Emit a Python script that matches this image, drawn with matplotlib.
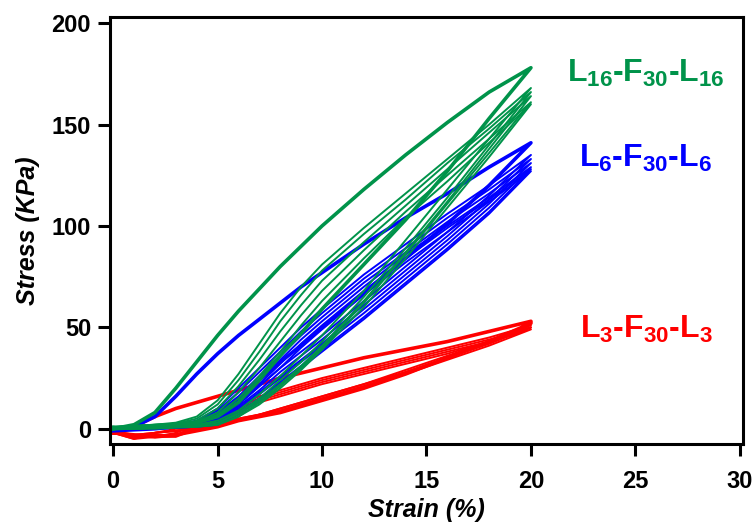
import matplotlib.pyplot as plt

plt.rcParams['font.family'] = ['Liberation Sans', 'DejaVu Sans']
plt.rcParams['font.weight'] = 'bold'
plt.rcParams['mathtext.fontset'] = 'custom'
plt.rcParams['mathtext.rm'] = 'Liberation Sans:bold'
plt.rcParams['mathtext.it'] = 'Liberation Sans:bold'
plt.rcParams['mathtext.bf'] = 'Liberation Sans:bold'

GREEN = '#00934a'
BLUE = '#0000ff'
RED = '#ff0000'

# strain points (%) of the loading and unloading branches
strain_up = [0, 1, 2, 3, 4, 5, 6, 7, 8, 9, 10, 12, 14, 16, 18, 20]
strain_down = [20, 18, 16, 14, 12, 10, 9, 8, 7, 6, 5, 4, 3, 2, 1, 0]

# L16-F30-L16: first cycle (bold) and following cycles (KPa)
green_first_up = [0, 2, 8, 20, 33, 46, 58, 69, 80, 90, 100, 118, 135, 151, 166, 178]
green_first_down = [178, 153, 127, 103, 81, 59, 47, 36, 24, 13, 6, 3, 2, 1, 0.5, 0]
green_up = [
    [0, 1, 2, 3, 6, 14, 27, 42, 57, 70, 81, 99, 116, 133, 150, 168],
    [0, 1, 1.5, 2.5, 5, 12, 24, 38, 53, 66, 78, 96, 113, 131, 148, 166],
    [0, 1, 1.5, 2, 4, 10, 21, 34, 48, 61, 73, 92, 110, 128, 146, 164],
    [1, 1.5, 2, 2.5, 3.5, 8, 18, 30, 43, 56, 68, 88, 107, 125, 143, 161],
    [1, 1.5, 2, 2.5, 3, 7, 15, 26, 38, 51, 63, 84, 104, 122, 141, 160],
]
green_down = [
    [168, 143, 118, 93, 68, 46, 36, 26, 17, 9, 4, 2, 1, 0.5, 0, 0],
    [166, 140, 114, 89, 65, 43, 33, 24, 15, 8, 3, 2, 1, 0.5, 0, 0],
    [164, 138, 112, 87, 63, 41, 31, 22, 14, 7, 3, 1.5, 1, 0.5, 0, 0],
    [161, 136, 111, 86, 62, 40, 30, 21, 13, 6, 2, 1, 1, 0.5, 0, 1],
    [160, 134, 109, 84, 60, 39, 29, 20, 12, 6, 2, 1, 0.5, 0, 0, 1],
]

# L6-F30-L6
blue_first_up = [0, 1, 6, 16, 27, 37, 46, 54, 62, 70, 77, 91, 104, 116, 129, 141]
blue_first_down = [141, 120, 101, 84, 67, 50, 41, 33, 24, 15, 7, 3, 1, 0, -0.5, -1]
blue_up = [
    [0, 0.5, 1, 2, 4, 10, 20, 30, 40, 50, 59, 76, 91, 106, 120, 135],
    [0, 0.5, 1, 2, 3.5, 9, 18, 28, 38, 48, 57, 74, 89, 104, 118, 133],
    [0, 0.5, 1, 1.5, 3, 8, 16, 26, 36, 46, 55, 72, 87, 102, 116, 131],
    [0, 0.5, 1, 1.5, 3, 7, 15, 24, 34, 44, 53, 70, 86, 100, 114, 129],
    [0, 0.5, 1, 1.5, 2.5, 6, 13, 22, 32, 42, 51, 68, 84, 99, 113, 128],
    [0.5, 1, 1, 1.5, 2.5, 5, 12, 21, 30, 40, 49, 66, 82, 97, 112, 127],
]
blue_down = [
    [135, 115, 97, 80, 63, 46, 38, 30, 21, 12, 5, 2, 1, 0.5, 0, 0],
    [133, 113, 95, 78, 61, 44, 36, 28, 19, 11, 4, 2, 1, 0.5, 0, 0],
    [131, 111, 93, 76, 59, 42, 34, 26, 18, 10, 4, 1.5, 1, 0.5, 0, 0],
    [129, 109, 91, 74, 57, 41, 33, 25, 17, 9, 3, 1.5, 1, 0.5, 0, 0],
    [128, 107, 89, 72, 55, 39, 31, 23, 15, 8, 3, 1, 0.5, 0, 0, 0],
    [127, 106, 88, 71, 54, 38, 30, 22, 14, 7, 2, 1, 0.5, 0, 0, 0.5],
]

# L3-F30-L3
red_first_up = [-2, 1, 6, 10, 13, 16, 19, 22, 25, 27.5, 30, 35, 39, 43, 48, 53]
red_first_down = [52, 43, 35, 27, 20, 14, 11, 8, 6, 4, 1, -1, -3, -4, -3, -2]
red_up = [
    [-2, -4, -4, -2, 2, 8, 12, 16, 19, 22, 25, 30, 35, 40, 45, 51],
    [-2, -4, -3, -3, 1, 6, 11, 15, 18, 21, 24, 29, 34, 39, 44, 50],
    [-2, -5, -4, -4, 0, 5, 10, 14, 17, 20, 23, 28, 33, 38, 43, 49],
    [-1, -3, -4, -3, 0, 4, 9, 13, 16, 19, 22, 27, 32, 37, 43, 50],
]
red_down = [
    [51, 43, 36, 29, 22, 16, 13, 10, 7, 5, 3, 1, -1, -2, -3, -2],
    [50, 42, 35, 28, 21, 15, 12, 9, 7, 4, 2, 0, -1, -2, -5, -2],
    [49, 41, 34, 27, 21, 15, 12, 9, 6, 4, 2, 0, -1, -2, -4, -2],
    [50, 42, 35, 28, 22, 16, 13, 10, 7, 5, 3, 1, 0, -2, -3, -2],
]

fig = plt.figure(figsize=(7.56, 5.25), dpi=100)
ax = fig.add_axes([0.1455, 0.1543, 0.8373, 0.8133])

groups = [
    (RED, red_first_up, red_first_down, red_up, red_down),
    (BLUE, blue_first_up, blue_first_down, blue_up, blue_down),
    (GREEN, green_first_up, green_first_down, green_up, green_down),
]
for color, first_up, first_down, ups, downs in groups:
    for up, down in zip(ups, downs):
        ax.plot(strain_up + strain_down, up + down, color=color, lw=1.4)
    ax.plot(strain_up + strain_down, first_up + first_down, color=color, lw=2.6)

ax.text(25.5, 171, r'$L_{16}$-$F_{30}$-$L_{16}$', color=GREEN, fontsize=23,
        ha='center', va='baseline')
ax.text(25.5, 129, r'$L_{6}$-$F_{30}$-$L_{6}$', color=BLUE, fontsize=23,
        ha='center', va='baseline')
ax.text(25.5, 45, r'$L_{3}$-$F_{30}$-$L_{3}$', color=RED, fontsize=23,
        ha='center', va='baseline')

ax.set_xlim(-0.15, 30.15)
ax.set_ylim(-7.5, 203)
ax.set_xticks([0, 5, 10, 15, 20, 25, 30])
ax.set_yticks([0, 50, 100, 150, 200])
ax.tick_params(direction='out', length=8.6, width=2.2, labelsize=17)
ax.tick_params(axis='x', pad=10)
ax.tick_params(axis='y', pad=5)
for side in ax.spines.values():
    side.set_linewidth(2.2)

ax.set_xlabel('Strain (%)', fontsize=18, fontstyle='italic',
              fontweight='bold', labelpad=4)
ax.set_ylabel('Stress (KPa)', fontsize=18, fontstyle='italic',
              fontweight='bold', labelpad=8)

fig.savefig('out.png', dpi=100)
